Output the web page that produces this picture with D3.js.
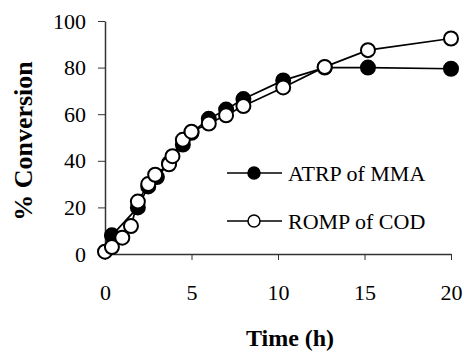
<!DOCTYPE html>
<html>
<head>
<meta charset="utf-8">
<script src="https://cdn.jsdelivr.net/npm/d3@7"></script>
<style>
  body { margin: 0; background: #fff; }
  svg text { font-family: "Liberation Serif", serif; }
</style>
</head>
<body>
<svg id="chart" width="464" height="352"></svg>
<script>
// ATRP of MMA (filled)
const atrpTime = [0.4, 1.9, 2.5, 3.0, 3.7, 4.5, 5.0, 6.0, 7.0, 8.0, 10.3, 12.7, 15.2, 20];
const atrpConv = [8, 20, 29, 33, 39, 47, 52, 58, 62, 66.5, 74.5, 80, 80, 79.5];
// ROMP of COD (open)
const rompTime = [0, 0.4, 1.0, 1.5, 1.9, 2.5, 2.9, 3.7, 3.9, 4.5, 5.0, 6.0, 7.0, 8.0, 10.3, 12.7, 15.2, 20];
const rompConv = [1, 3, 7, 12, 22.5, 30, 34, 38.5, 42, 49, 52.5, 56, 59.5, 63.5, 71.5, 80.3, 87.5, 92.5];

const xTicks = [0, 5, 10, 15, 20];
const yTicks = [0, 20, 40, 60, 80, 100];
const legendNames = ["ATRP of MMA", "ROMP of COD"];

const FONT = "Liberation Serif";
const svg = d3.select("#chart");
const margin = {left: 105, right: 13, top: 21, bottom: 98};
const width = 464 - margin.left - margin.right;
const height = 352 - margin.top - margin.bottom;

const x = d3.scaleLinear().domain([0, 20]).range([0, width]);
const y = d3.scaleLinear().domain([0, 100]).range([height, 0]);

const g = svg.append("g")
  .attr("transform", "translate(" + margin.left + "," + margin.top + ")");

// axes
const xAxis = g.append("g")
  .attr("transform", "translate(0," + height + ")")
  .call(d3.axisBottom(x).tickValues(xTicks).tickSize(6).tickPadding(24).tickSizeOuter(0));
const yAxis = g.append("g")
  .call(d3.axisLeft(y).tickValues(yTicks).tickSize(7).tickPadding(12).tickSizeOuter(0));

[xAxis, yAxis].forEach(a => {
  a.attr("font-family", FONT).attr("font-size", 22);
  a.select(".domain").attr("stroke", "#333").attr("stroke-width", 1.5);
  a.selectAll(".tick line").attr("stroke", "#333").attr("stroke-width", 1);
  a.selectAll(".tick text").attr("fill", "#000");
});

const line = d3.line().x(d => x(d[0])).y(d => y(d[1]));
const atrp = atrpTime.map((t, i) => [t, atrpConv[i]]);
const romp = rompTime.map((t, i) => [t, rompConv[i]]);

function drawSeries(data, fill) {
  g.append("path")
    .datum(data)
    .attr("d", line)
    .attr("fill", "none")
    .attr("stroke", "#000")
    .attr("stroke-width", 1.7);
  g.selectAll(null)
    .data(data)
    .enter()
    .append("circle")
    .attr("cx", d => x(d[0]))
    .attr("cy", d => y(d[1]))
    .attr("r", 7)
    .attr("fill", fill)
    .attr("stroke", "#000")
    .attr("stroke-width", 2);
}
drawSeries(atrp, "#000");
drawSeries(romp, "#fff");

// legend
const legend = svg.append("g").attr("transform", "translate(227,173)");
legendNames.forEach((name, i) => {
  const row = legend.append("g").attr("transform", "translate(0," + (i * 48) + ")");
  row.append("line")
    .attr("x1", 0).attr("x2", 55)
    .attr("stroke", "#000").attr("stroke-width", 1.5);
  row.append("circle")
    .attr("cx", 27).attr("r", 6)
    .attr("fill", i === 0 ? "#000" : "#fff")
    .attr("stroke", "#000").attr("stroke-width", 1.5);
  row.append("text")
    .attr("x", 61).attr("y", 8)
    .attr("font-family", FONT)
    .attr("font-size", 22)
    .text(name);
});

// axis titles
svg.append("text")
  .attr("x", margin.left + x(10) + 12)
  .attr("y", 346)
  .attr("text-anchor", "middle")
  .attr("font-family", FONT)
  .attr("font-size", 24)
  .attr("font-weight", "bold")
  .text("Time (h)");

svg.append("text")
  .attr("transform", "translate(32,141) rotate(-90)")
  .attr("text-anchor", "middle")
  .attr("font-family", FONT)
  .attr("font-size", 26)
  .attr("font-weight", "bold")
  .text("% Conversion");
</script>
</body>
</html>
